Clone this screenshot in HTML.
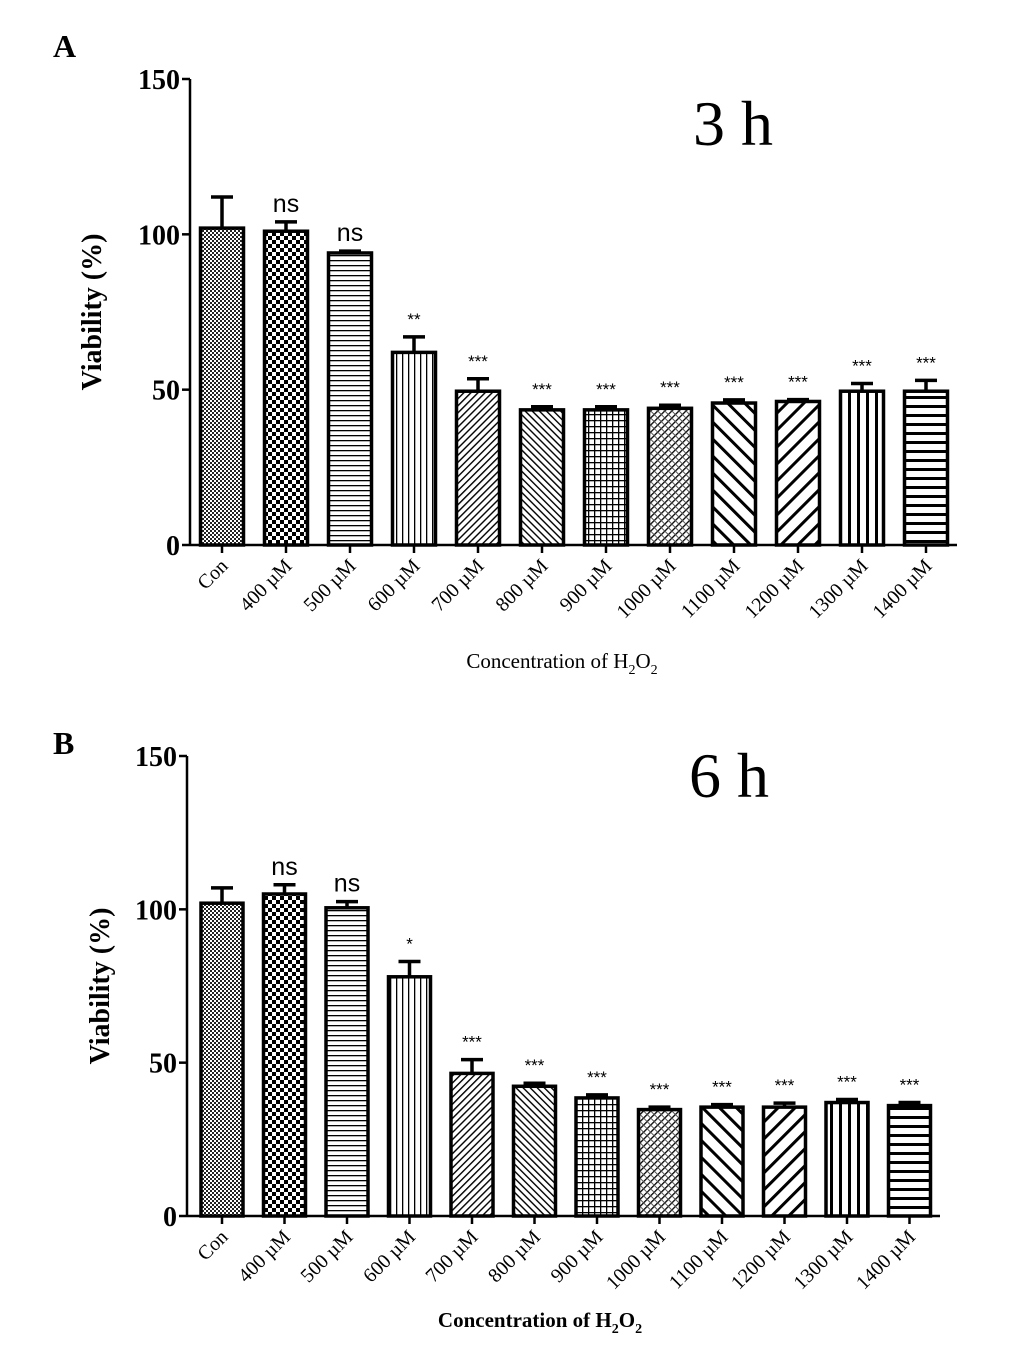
<!DOCTYPE html>
<html><head><meta charset="utf-8"><style>
html,body{margin:0;padding:0;background:#fff}
svg{display:block}
text{font-family:"Liberation Serif",serif}
</style></head><body>
<svg id="fig" width="1033" height="1349" viewBox="0 0 1033 1349" xmlns="http://www.w3.org/2000/svg">
<defs>
<pattern id="p0" width="4" height="4" patternUnits="userSpaceOnUse"><rect width="4" height="4" fill="#fff"/><rect width="2" height="2" fill="#222"/><rect x="2" y="2" width="2" height="2" fill="#222"/></pattern>
<pattern id="p1" width="8" height="8" patternUnits="userSpaceOnUse"><rect width="8" height="8" fill="#fff"/><rect width="4" height="4" fill="#000"/><rect x="4" y="4" width="4" height="4" fill="#000"/></pattern>
<pattern id="p2" width="6" height="5" patternUnits="userSpaceOnUse"><rect width="6" height="5" fill="#fff"/><rect width="6" height="1.3" fill="#000"/></pattern>
<pattern id="p3" width="6" height="6" patternUnits="userSpaceOnUse"><rect width="6" height="6" fill="#fff"/><rect width="1.3" height="6" fill="#000"/></pattern>
<pattern id="p4" width="5" height="5" patternUnits="userSpaceOnUse" patternTransform="rotate(45)"><rect width="5" height="5" fill="#fff"/><rect width="1.4" height="5" fill="#000"/></pattern>
<pattern id="p5" width="5" height="5" patternUnits="userSpaceOnUse" patternTransform="rotate(-45)"><rect width="5" height="5" fill="#fff"/><rect width="1.4" height="5" fill="#000"/></pattern>
<pattern id="p6" width="6" height="6" patternUnits="userSpaceOnUse"><rect width="6" height="6" fill="#fff"/><rect width="6" height="1.3" fill="#000"/><rect width="1.3" height="6" fill="#000"/></pattern>
<pattern id="p7" width="5" height="5" patternUnits="userSpaceOnUse" patternTransform="rotate(45)"><rect width="5" height="5" fill="#fff"/><rect width="1.3" height="5" fill="#000"/><rect width="5" height="1" fill="#555"/></pattern>
<pattern id="p8" width="12" height="12" patternUnits="userSpaceOnUse" patternTransform="rotate(-45)"><rect width="12" height="12" fill="#fff"/><rect width="3" height="12" fill="#000"/></pattern>
<pattern id="p9" width="12" height="12" patternUnits="userSpaceOnUse" patternTransform="rotate(45)"><rect width="12" height="12" fill="#fff"/><rect width="3" height="12" fill="#000"/></pattern>
<pattern id="p10" width="9" height="9" patternUnits="userSpaceOnUse" x="2"><rect width="9" height="9" fill="#fff"/><rect width="3" height="9" fill="#000"/></pattern>
<pattern id="p11" width="9" height="9" patternUnits="userSpaceOnUse"><rect width="9" height="9" fill="#fff"/><rect width="9" height="3" fill="#000"/></pattern>
</defs>
</svg>
<script>
const categories = ["Con","400 \u00b5M","500 \u00b5M","600 \u00b5M","700 \u00b5M","800 \u00b5M","900 \u00b5M","1000 \u00b5M","1100 \u00b5M","1200 \u00b5M","1300 \u00b5M","1400 \u00b5M"];
const yTicks = [0,50,100,150];
const valuesA = [102,101,94,62,49.5,43.5,43.5,44,45.7,46.2,49.5,49.5];
const errorsA = [10,3,0.6,5,4,1,1,1,1,0.6,2.5,3.5];
const sigA = ["","ns","ns","**","***","***","***","***","***","***","***","***"];
const valuesB = [102,105,100.5,78,46.5,42.3,38.5,34.7,35.5,35.5,37,36];
const errorsB = [5,3,2,5,4.5,1,1,0.8,0.8,1.3,1,1];
const sigB = ["","ns","ns","*","***","***","***","***","***","***","***","***"];

const NS="http://www.w3.org/2000/svg";
const svg=document.getElementById('fig');
function mk(tag,attrs,parent){const e=document.createElementNS(NS,tag);for(const k in attrs)e.setAttribute(k,attrs[k]);(parent||svg).appendChild(e);return e;}

function panel(cfg){
  const g=mk('g',{});
  
  
  const y=v=>cfg.y0-(cfg.y0-cfg.y150)*v/150;
  const x=i=>cfg.x0+cfg.step*i;
  const ya=mk('line',{x1:cfg.ax,y1:cfg.y150,x2:cfg.ax,y2:cfg.y0,stroke:'#000','stroke-width':2.5},g);
  
  
  const xa=mk('line',{x1:cfg.ax,y1:cfg.y0,x2:cfg.axEnd,y2:cfg.y0,stroke:'#000','stroke-width':2.5},g);
  
  
  yTicks.forEach(t=>{
    mk('line',{x1:cfg.ax-8,y1:y(t),x2:cfg.ax,y2:y(t),stroke:'#000','stroke-width':2.5},g);
    const tl=mk('text',{x:cfg.ax-10,y:y(t)+10,'text-anchor':'end','font-size':28,'font-weight':'bold'},g);
    tl.textContent=t;
    
    
  });
  cfg.values.forEach((v,i)=>{
    const cx=x(i), w=cfg.bw;
    const e=cfg.errors[i];
    const eb=mk('path',{d:`M${cx},${y(v+e)}V${cfg.both?y(v-e):y(v)}M${cx-11},${y(v+e)}H${cx+11}`+(cfg.both?`M${cx-11},${y(v-e)}H${cx+11}`:''),stroke:'#000','stroke-width':3.5,fill:'none'},g);
    
    
    const b=mk('rect',{x:cx-w/2,y:y(v),width:w,height:cfg.y0-y(v),fill:`url(#p${i})`,stroke:'#000','stroke-width':3.5},g);
    
    
    mk('line',{x1:cx,y1:cfg.y0,x2:cx,y2:cfg.y0+8,stroke:'#000','stroke-width':2.5},g);
    const s=cfg.sig[i];
    if(s){
      const ns=s==='ns';
      const st=mk('text',{x:cx,y:y(v+e)-(ns?10:12),'text-anchor':'middle','font-size':ns?25:17,style:'font-family:"Liberation Sans",sans-serif'},g);
      st.textContent=s;
      
      
    }
    const lb=mk('text',{x:cx+7,y:cfg.y0+22,'text-anchor':'end','font-size':20,transform:`rotate(-45 ${cx+7} ${cfg.y0+22})`},g);
    lb.textContent=categories[i];
    
    
  });
  const yl=mk('text',{x:cfg.ylx,y:(cfg.y0+cfg.y150)/2,'text-anchor':'middle','font-size':28,'font-weight':'bold',transform:`rotate(-90 ${cfg.ylx} ${(cfg.y0+cfg.y150)/2})`},g);
  yl.textContent='Viability (%)';
  
  
  const xt=mk('text',{x:cfg.xtx,y:cfg.xty,'text-anchor':'middle','font-size':21,'font-weight':cfg.xtBold?'bold':'normal'},g);
  xt.innerHTML='Concentration of H<tspan font-size="14" dy="6">2</tspan><tspan dy="-6">O</tspan><tspan font-size="14" dy="6">2</tspan>';
  
  
  const tt=mk('text',{x:cfg.ttx,y:cfg.tty,'text-anchor':'middle','font-size':64},g);
  tt.textContent=cfg.title;
  
  
  const pl=mk('text',{x:cfg.plx,y:cfg.ply,'font-size':32,'font-weight':'bold'},g);
  pl.textContent=cfg.letter;
  
  
}

panel({name:'panel-a-3h',ax:190,axEnd:957,y0:545,y150:79,x0:222,step:64,bw:43,values:valuesA,errors:errorsA,sig:sigA,both:false,
  ylx:101,xtx:562,xty:668,xtBold:false,ttx:733,tty:145,title:'3 h',letter:'A',plx:53,ply:57});
panel({name:'panel-b-6h',ax:187,axEnd:940,y0:1216,y150:756,x0:222,step:62.5,bw:42,values:valuesB,errors:errorsB,sig:sigB,both:true,
  ylx:109,xtx:540,xty:1327,xtBold:true,ttx:729,tty:797,title:'6 h',letter:'B',plx:53,ply:754});
</script>
</body></html>
